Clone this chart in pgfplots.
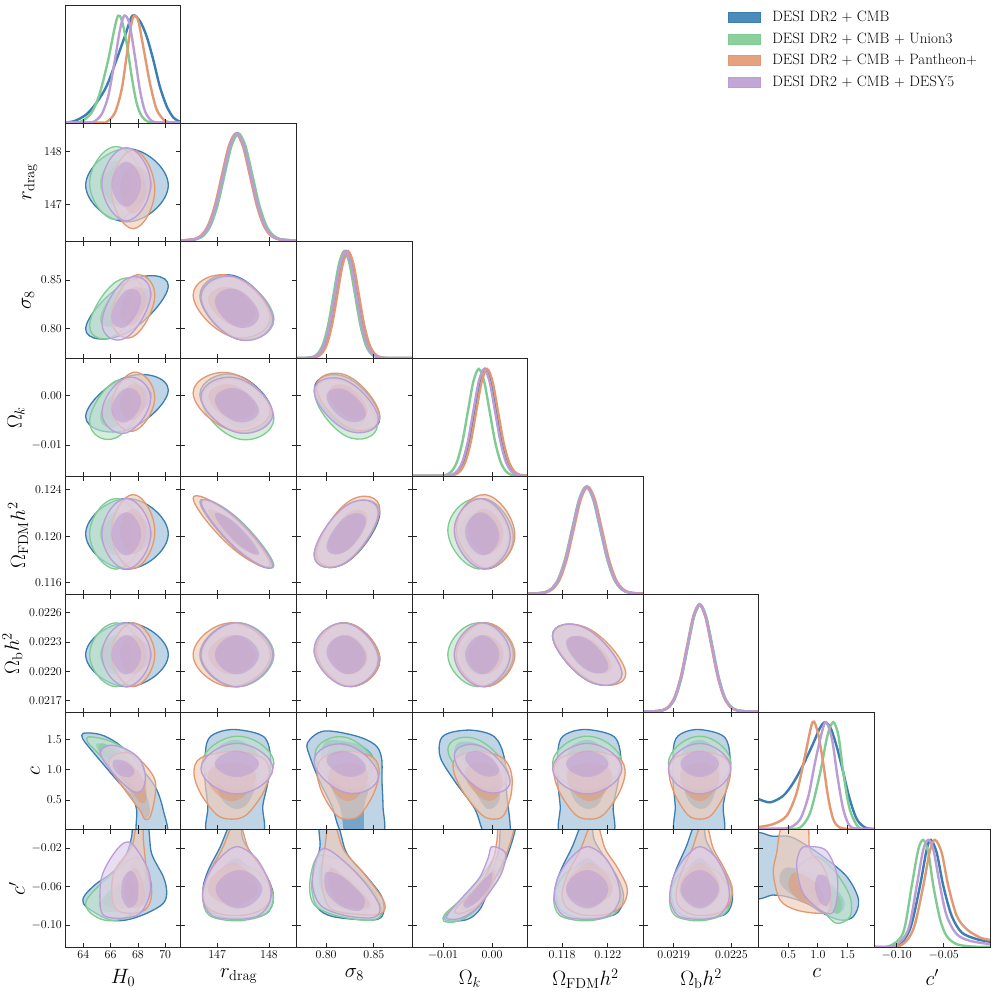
\documentclass[border=0pt]{standalone}
\usepackage{pgfplots}
\pgfplotsset{compat=1.18}
\definecolor{cB}{RGB}{58,126,178}
\definecolor{cG}{RGB}{128,203,146}
\definecolor{cO}{RGB}{226,152,112}
\definecolor{cP}{RGB}{188,156,212}
% one series: colour, tension outer, outer contour, tension inner, inner contour
\newcommand{\ctN}[5]{%
  \addplot[draw=none, fill=#1!50!white, fill opacity=0.65, smooth cycle, tension=#2] coordinates {#3};
  \addplot[draw=none, fill=#1, fill opacity=0.55, smooth cycle, tension=#4] coordinates {#5};
  \addplot[draw=#1, line width=1.3pt, smooth cycle, tension=#2] coordinates {#3};}
\newcommand{\ctE}[3]{\ctN{#1}{0.83}{#2}{0.83}{#3}}
\newcommand{\ctS}[3]{\ctN{#1}{0.55}{#2}{0.55}{#3}}
\newcommand{\ctM}[3]{\ctN{#1}{0.55}{#2}{0.83}{#3}}
\newcommand{\dcurve}[2]{\addplot[draw=#1, line width=2.4pt, smooth, tension=0.5, forget plot] coordinates {#2};}
\pgfplotsset{
  tri/.style={scale only axis, width=115.6pt, height=117.75pt, anchor=south west,
    scaled x ticks=false, scaled y ticks=false,
    axis line style={black!85, line width=0.9pt},
    tick style={black!85, line width=0.8pt}, major tick length=4.5pt,
    tick align=inside, xtick pos=both, ytick pos=both,
    xticklabel pos=left, yticklabel pos=left,
    xticklabels={}, yticklabels={},
    tick label style={font=\fontsize{11.5}{13}\selectfont},
    label style={font=\fontsize{21}{25}\selectfont},
    xlabel style={yshift=-3pt},
    axis on top},
  dg/.style={tri, ymin=-0.008, ymax=1.093, ytick=\empty, xtick pos=left},
  xH/.style={xmin=62.68, xmax=71.15, xtick={64,66,68,70}},
  xR/.style={xmin=146.30, xmax=148.53, xtick={147,148}},
  yR/.style={ymin=146.30, ymax=148.53, ytick={147,148}},
  xS/.style={xmin=0.769, xmax=0.890, xtick={0.80,0.85}},
  yS/.style={ymin=0.769, ymax=0.890, ytick={0.80,0.85}},
  xK/.style={xmin=-0.01628, xmax=0.00727, xtick={-0.01,0}},
  yK/.style={ymin=-0.01628, ymax=0.00727, ytick={-0.01,0}},
  xF/.style={xmin=0.1150, xmax=0.1251, xtick={0.118,0.122}},
  yF/.style={ymin=0.1150, ymax=0.1251, ytick={0.116,0.120,0.124}},
  xB/.style={xmin=0.021582, xmax=0.022787, xtick={0.0219,0.0225}},
  yB/.style={ymin=0.021582, ymax=0.022787, ytick={0.0217,0.0220,0.0223,0.0226}},
  xC/.style={xmin=0, xmax=1.96, xtick={0.5,1,1.5}},
  yC/.style={ymin=0, ymax=1.96, ytick={0.5,1,1.5}},
  xP/.style={xmin=-0.1236, xmax=-0.0006, xtick={-0.10,-0.05}},
  yP/.style={ymin=-0.1236, ymax=-0.0006, ytick={-0.10,-0.06,-0.02}},
  lxH/.style={xticklabels={$64$,$66$,$68$,$70$}, xlabel={$H_0$}},
  lxR/.style={xticklabels={$147$,$148$}, xlabel={$r_{\mathrm{drag}}$}},
  lxS/.style={xticklabels={$0.80$,$0.85$}, xlabel={$\sigma_8$}},
  lxK/.style={xticklabels={$-0.01$,$0.00$}, xlabel={$\Omega_k$}},
  lxF/.style={xticklabels={$0.118$,$0.122$}, xlabel={$\Omega_{\mathrm{FDM}}h^2$}},
  lxB/.style={xticklabels={$0.0219$,$0.0225$}, xlabel={$\Omega_{\mathrm{b}}h^2$}},
  lxC/.style={xticklabels={$0.5$,$1.0$,$1.5$}, xlabel={$c$}},
  lxP/.style={xticklabels={$-0.10$,$-0.05$}, xlabel={$c'$}},
  lyR/.style={yticklabels={$147$,$148$}, ylabel={$r_{\mathrm{drag}}$}},
  lyS/.style={yticklabels={$0.80$,$0.85$}, ylabel={$\sigma_8$}},
  lyK/.style={yticklabels={$-0.01$,$0.00$}, ylabel={$\Omega_k$}},
  lyF/.style={yticklabels={$0.116$,$0.120$,$0.124$}, ylabel={$\Omega_{\mathrm{FDM}}h^2$}},
  lyB/.style={yticklabels={$0.0217$,$0.0220$,$0.0223$,$0.0226$}, ylabel={$\Omega_{\mathrm{b}}h^2$}},
  lyC/.style={yticklabels={$0.5$,$1.0$,$1.5$}, ylabel={$c$}},
  lyP/.style={yticklabels={$-0.10$,$-0.06$,$-0.02$}, ylabel={$c'$}},
}
\begin{document}
\begin{tikzpicture}
\path[use as bounding box] (0,0) rectangle (996pt,996pt);

% ---------------- row 0 : H0
\begin{axis}[dg, xH, at={(65.3pt,872.55pt)}, legend cell align=left,
  legend style={at={(5.73,0.97)}, anchor=north west, draw=none, fill=none, inner sep=0pt,
    row sep=5.5pt, /tikz/every odd column/.append style={column sep=10pt},
    nodes={font=\fontsize{15}{17}\selectfont}}]
\addlegendimage{legend image code/.code={\fill[cB, fill opacity=0.9] (0pt,-5pt) rectangle (32pt,5pt);}}
\addlegendentry{DESI DR2 + CMB}
\addlegendimage{legend image code/.code={\fill[cG, fill opacity=0.9] (0pt,-5pt) rectangle (32pt,5pt);}}
\addlegendentry{DESI DR2 + CMB + Union3}
\addlegendimage{legend image code/.code={\fill[cO, fill opacity=0.9] (0pt,-5pt) rectangle (32pt,5pt);}}
\addlegendentry{DESI DR2 + CMB + Pantheon+}
\addlegendimage{legend image code/.code={\fill[cP, fill opacity=0.9] (0pt,-5pt) rectangle (32pt,5pt);}}
\addlegendentry{DESI DR2 + CMB + DESY5}
\dcurve{cB}{(62.68,0)(63.39,0.016)(64.24,0.078)(64.97,0.186)(65.71,0.342)(66.44,0.59)(67.05,0.81)(67.6,1)(68.14,0.95)(68.63,0.81)(69.12,0.59)(69.6,0.34)(70.1,0.155)(70.6,0.047)(71.15,0.004)}
\dcurve{cG}{(62.68,0)(63.76,0.006)(64.61,0.093)(65.22,0.28)(65.83,0.59)(66.32,0.9)(66.56,1)(66.81,0.96)(67.17,0.75)(67.54,0.435)(67.9,0.186)(68.27,0.062)(68.76,0.006)(69.5,0)(71.15,0)}
\dcurve{cO}{(62.68,0)(65.2,0)(65.71,0.006)(66.32,0.093)(66.81,0.31)(67.17,0.62)(67.49,0.9)(67.73,1)(68.03,0.95)(68.39,0.71)(68.88,0.37)(69.37,0.124)(69.98,0.016)(70.6,0)(71.15,0)}
\dcurve{cP}{(62.68,0)(64.0,0)(64.73,0.006)(65.34,0.078)(65.83,0.25)(66.32,0.59)(66.69,0.87)(67.0,1)(67.37,0.93)(67.78,0.62)(68.14,0.31)(68.51,0.11)(69.0,0.016)(69.6,0)(71.15,0)}
\end{axis}

% ---------------- row 1 : r_drag
\begin{axis}[tri, xH, yR, lyR, at={(65.3pt,754.8pt)}]
\ctE{cB}{(70.226,147.36)(67.2,148.054)(64.174,147.36)(67.2,146.666)}{(69.054,147.36)(67.2,147.786)(65.346,147.36)(67.2,146.934)}
\ctE{cG}{(68.334,147.40)(66.4,148.094)(64.466,147.40)(66.4,146.706)}{(67.586,147.40)(66.4,147.826)(65.214,147.40)(66.4,146.974)}
\ctE{cO}{(69.237,147.28)(67.65,148.024)(66.063,147.28)(67.65,146.536)}{(68.623,147.28)(67.65,147.736)(66.677,147.28)(67.65,146.824)}
\ctE{cP}{(68.936,147.38)(67.15,148.074)(65.364,147.38)(67.15,146.686)}{(68.244,147.38)(67.15,147.806)(66.056,147.38)(67.15,146.954)}
\end{axis}
\begin{axis}[dg, xR, at={(180.9pt,754.8pt)}]
\dcurve{cB}{(146.30,0)(146.39,0.001)(146.58,0.011)(146.715,0.044)(146.85,0.135)(146.985,0.325)(147.12,0.607)(147.255,0.882)(147.39,1)(147.525,0.882)(147.66,0.607)(147.795,0.325)(147.93,0.135)(148.065,0.044)(148.2,0.011)(148.39,0.001)(148.53,0)}
\dcurve{cG}{(146.30,0)(146.41,0.001)(146.60,0.011)(146.735,0.044)(146.87,0.135)(147.005,0.325)(147.14,0.607)(147.275,0.882)(147.41,1)(147.545,0.882)(147.68,0.607)(147.815,0.325)(147.95,0.135)(148.085,0.044)(148.22,0.011)(148.41,0.001)(148.53,0)}
\dcurve{cO}{(146.30,0)(146.36,0.001)(146.55,0.011)(146.685,0.044)(146.82,0.135)(146.955,0.325)(147.09,0.607)(147.225,0.882)(147.36,1)(147.495,0.882)(147.63,0.607)(147.765,0.325)(147.90,0.135)(148.035,0.044)(148.17,0.011)(148.36,0.001)(148.53,0)}
\dcurve{cP}{(146.30,0)(146.38,0.001)(146.57,0.011)(146.705,0.044)(146.84,0.135)(146.975,0.325)(147.11,0.607)(147.245,0.882)(147.38,1)(147.515,0.882)(147.65,0.607)(147.785,0.325)(147.92,0.135)(148.055,0.044)(148.19,0.011)(148.38,0.001)(148.53,0)}
\end{axis}

% ---------------- row 2 : sigma8
\begin{axis}[tri, xH, yS, lyS, at={(65.3pt,637.05pt)}]
\ctE{cB}{(70.226,0.84423)(67.2,0.84799)(64.174,0.79977)(67.2,0.79601)}{(69.054,0.83565)(67.2,0.83796)(65.346,0.80835)(67.2,0.80604)}
\ctE{cG}{(68.334,0.83899)(66.4,0.8483)(64.466,0.80301)(66.4,0.7937)}{(67.586,0.83206)(66.4,0.83778)(65.214,0.80994)(66.4,0.80422)}
\ctE{cO}{(69.237,0.83462)(67.65,0.85411)(66.063,0.81138)(67.65,0.79189)}{(68.623,0.83014)(67.65,0.84211)(66.677,0.81586)(67.65,0.80389)}
\ctE{cP}{(68.936,0.83617)(67.15,0.85109)(65.364,0.80583)(67.15,0.79091)}{(68.244,0.83032)(67.15,0.83949)(66.056,0.81168)(67.15,0.80251)}
\end{axis}
\begin{axis}[tri, xR, yS, at={(180.9pt,637.05pt)}]
\ctE{cB}{(148.054,0.81003)(147.36,0.85405)(146.666,0.83397)(147.36,0.78995)}{(147.786,0.81465)(147.36,0.84168)(146.934,0.82935)(147.36,0.80232)}
\ctE{cG}{(148.094,0.80955)(147.40,0.85164)(146.706,0.83245)(147.40,0.79036)}{(147.826,0.81396)(147.40,0.83983)(146.974,0.82804)(147.40,0.80217)}
\ctE{cO}{(148.024,0.81138)(147.28,0.85411)(146.536,0.83462)(147.28,0.79189)}{(147.736,0.81586)(147.28,0.84211)(146.824,0.83014)(147.28,0.80389)}
\ctE{cP}{(148.074,0.8092)(147.38,0.85258)(146.686,0.8328)(147.38,0.78942)}{(147.806,0.81375)(147.38,0.8404)(146.954,0.82825)(147.38,0.8016)}
\end{axis}
\begin{axis}[dg, xS, at={(296.5pt,637.05pt)}]
\dcurve{cB}{(0.769,0)(0.7803,0.001)(0.788,0.011)(0.7935,0.044)(0.799,0.135)(0.8045,0.325)(0.810,0.607)(0.8155,0.882)(0.821,1)(0.8265,0.882)(0.832,0.607)(0.8375,0.325)(0.843,0.135)(0.8485,0.044)(0.854,0.011)(0.8617,0.001)(0.890,0)}
\dcurve{cG}{(0.769,0)(0.7783,0.001)(0.786,0.011)(0.7915,0.044)(0.797,0.135)(0.8025,0.325)(0.808,0.607)(0.8135,0.882)(0.819,1)(0.8245,0.882)(0.830,0.607)(0.8355,0.325)(0.841,0.135)(0.8465,0.044)(0.852,0.011)(0.8597,0.001)(0.890,0)}
\dcurve{cO}{(0.769,0)(0.7823,0.001)(0.790,0.011)(0.7955,0.044)(0.801,0.135)(0.8065,0.325)(0.812,0.607)(0.8175,0.882)(0.823,1)(0.8285,0.882)(0.834,0.607)(0.8395,0.325)(0.845,0.135)(0.8505,0.044)(0.856,0.011)(0.8637,0.001)(0.890,0)}
\dcurve{cP}{(0.769,0)(0.7798,0.001)(0.7875,0.011)(0.793,0.044)(0.7985,0.135)(0.804,0.325)(0.8095,0.607)(0.815,0.882)(0.8205,1)(0.826,0.882)(0.8315,0.607)(0.837,0.325)(0.8425,0.135)(0.848,0.044)(0.8535,0.011)(0.8612,0.001)(0.890,0)}
\end{axis}

% ---------------- row 3 : Omega_k
\begin{axis}[tri, xH, yK, lyK, at={(65.3pt,519.3pt)}]
\ctE{cB}{(70.226,0.00108)(67.2,0.00371)(64.174,-0.00428)(67.2,-0.00691)}{(69.054,0.00004)(67.2,0.00166)(65.346,-0.00324)(67.2,-0.00486)}
\ctE{cG}{(68.334,-0.00032)(66.4,0.00289)(64.466,-0.00528)(66.4,-0.00849)}{(67.586,-0.00128)(66.4,0.00068)(65.214,-0.00432)(66.4,-0.00628)}
\ctE{cO}{(69.237,-0.00041)(67.65,0.00458)(66.063,-0.00219)(67.65,-0.00718)}{(68.623,-0.00075)(67.65,0.00231)(66.677,-0.00185)(67.65,-0.00491)}
\ctE{cP}{(68.936,-0.00057)(67.15,0.00352)(65.364,-0.00343)(67.15,-0.00752)}{(68.244,-0.00112)(67.15,0.00139)(66.056,-0.00288)(67.15,-0.00539)}
\end{axis}
\begin{axis}[tri, xR, yK, at={(180.9pt,519.3pt)}]
\ctE{cB}{(148.054,-0.00339)(147.36,0.00408)(146.666,0.00019)(147.36,-0.00728)}{(147.786,-0.0027)(147.36,0.00188)(146.934,-0.0005)(147.36,-0.00508)}
\ctE{cG}{(148.094,-0.00466)(147.40,0.00311)(146.706,-0.00094)(147.40,-0.00871)}{(147.826,-0.00394)(147.40,0.00083)(146.974,-0.00166)(147.40,-0.00643)}
\ctE{cO}{(148.024,-0.00309)(147.28,0.00438)(146.536,0.00049)(147.28,-0.00698)}{(147.736,-0.0024)(147.28,0.00218)(146.824,-0.0002)(147.28,-0.00478)}
\ctE{cP}{(148.074,-0.00371)(147.38,0.00344)(146.686,-0.00029)(147.38,-0.00744)}{(147.806,-0.00305)(147.38,0.00134)(146.954,-0.00095)(147.38,-0.00534)}
\end{axis}
\begin{axis}[tri, xS, yK, at={(296.5pt,519.3pt)}]
\ctE{cB}{(0.8562,-0.00458)(0.822,0.00355)(0.7878,0.00138)(0.822,-0.00675)}{(0.843,-0.00343)(0.822,0.00156)(0.801,0.00023)(0.822,-0.00476)}
\ctE{cG}{(0.8537,-0.0059)(0.821,0.00257)(0.7883,0.0003)(0.821,-0.00817)}{(0.8411,-0.0047)(0.821,0.00049)(0.8009,-0.0009)(0.821,-0.00609)}
\ctE{cO}{(0.8562,-0.00428)(0.823,0.00385)(0.7898,0.00168)(0.823,-0.00645)}{(0.8434,-0.00313)(0.823,0.00186)(0.8026,0.00053)(0.823,-0.00446)}
\ctE{cP}{(0.8547,-0.00485)(0.821,0.00294)(0.7873,0.00085)(0.821,-0.00694)}{(0.8417,-0.00375)(0.821,0.00103)(0.8003,-0.00025)(0.821,-0.00503)}
\end{axis}
\begin{axis}[dg, xK, at={(412.1pt,519.3pt)}]
\dcurve{cB}{(-0.01628,0)(-0.0095,0.001)(-0.008,0.011)(-0.0069,0.044)(-0.0058,0.135)(-0.0047,0.325)(-0.0036,0.607)(-0.0025,0.882)(-0.0014,1)(-0.0003,0.882)(0.0008,0.607)(0.0019,0.325)(0.003,0.135)(0.0041,0.044)(0.0052,0.011)(0.0067,0.001)(0.00727,0)}
\dcurve{cG}{(-0.01628,0)(-0.0108,0.001)(-0.0093,0.011)(-0.0082,0.044)(-0.0071,0.135)(-0.006,0.325)(-0.0049,0.607)(-0.0038,0.882)(-0.0027,1)(-0.0016,0.882)(-0.0005,0.607)(0.0006,0.325)(0.0017,0.135)(0.0028,0.044)(0.0039,0.011)(0.0054,0.001)(0.00727,0)}
\dcurve{cO}{(-0.01628,0)(-0.0091,0.001)(-0.0076,0.011)(-0.0065,0.044)(-0.0054,0.135)(-0.0043,0.325)(-0.0032,0.607)(-0.0021,0.882)(-0.001,1)(0.0001,0.882)(0.0012,0.607)(0.0023,0.325)(0.0034,0.135)(0.0045,0.044)(0.0056,0.011)(0.00727,0.001)}
\dcurve{cP}{(-0.01628,0)(-0.0097,0.001)(-0.0082,0.011)(-0.0071,0.044)(-0.006,0.135)(-0.0049,0.325)(-0.0038,0.607)(-0.0027,0.882)(-0.0016,1)(-0.0005,0.882)(0.0006,0.607)(0.0017,0.325)(0.0028,0.135)(0.0039,0.044)(0.005,0.011)(0.0065,0.001)(0.00727,0)}
\end{axis}

% ---------------- row 4 : Omega_FDM h^2
\begin{axis}[tri, xH, yF, lyF, at={(65.3pt,401.55pt)}]
\ctE{cB}{(70.226,0.1202)(67.2,0.12323)(64.174,0.1202)(67.2,0.11717)}{(69.054,0.1202)(67.2,0.12205)(65.346,0.1202)(67.2,0.11835)}
\ctE{cG}{(68.334,0.1202)(66.4,0.12323)(64.466,0.1202)(66.4,0.11717)}{(67.586,0.1202)(66.4,0.12205)(65.214,0.1202)(66.4,0.11835)}
\ctE{cO}{(69.237,0.1204)(67.65,0.12357)(66.063,0.1204)(67.65,0.11723)}{(68.623,0.1204)(67.65,0.12235)(66.677,0.1204)(67.65,0.11845)}
\ctE{cP}{(68.936,0.1202)(67.15,0.12323)(65.364,0.1202)(67.15,0.11717)}{(68.244,0.1202)(67.15,0.12205)(66.056,0.1202)(67.15,0.11835)}
\end{axis}
\begin{axis}[tri, xR, yF, at={(180.9pt,401.55pt)}]
\ctE{cB}{(148.054,0.11747)(147.36,0.12152)(146.666,0.12293)(147.36,0.11888)}{(147.786,0.11853)(147.36,0.12101)(146.934,0.12187)(147.36,0.11939)}
\ctE{cG}{(148.094,0.11747)(147.40,0.12152)(146.706,0.12293)(147.40,0.11888)}{(147.826,0.11853)(147.40,0.12101)(146.974,0.12187)(147.40,0.11939)}
\ctE{cO}{(148.024,0.11755)(147.28,0.12178)(146.536,0.12325)(147.28,0.11902)}{(147.736,0.11864)(147.28,0.12125)(146.824,0.12216)(147.28,0.11955)}
\ctE{cP}{(148.074,0.11747)(147.38,0.12152)(146.686,0.12293)(147.38,0.11888)}{(147.806,0.11853)(147.38,0.12101)(146.954,0.12187)(147.38,0.11939)}
\end{axis}
\begin{axis}[tri, xS, yF, at={(296.5pt,401.55pt)}]
\ctE{cB}{(0.8562,0.12202)(0.822,0.12262)(0.7878,0.11838)(0.822,0.11778)}{(0.843,0.12131)(0.822,0.12168)(0.801,0.11909)(0.822,0.11872)}
\ctE{cG}{(0.8537,0.12202)(0.821,0.12262)(0.7883,0.11838)(0.821,0.11778)}{(0.8411,0.12131)(0.821,0.12168)(0.8009,0.11909)(0.821,0.11872)}
\ctE{cO}{(0.8562,0.1223)(0.823,0.12294)(0.7898,0.1185)(0.823,0.11786)}{(0.8434,0.12157)(0.823,0.12196)(0.8026,0.11923)(0.823,0.11884)}
\ctE{cP}{(0.8547,0.12202)(0.821,0.12262)(0.7873,0.11838)(0.821,0.11778)}{(0.8417,0.12131)(0.821,0.12168)(0.8003,0.11909)(0.821,0.11872)}
\end{axis}
\begin{axis}[tri, xK, yF, at={(412.1pt,401.55pt)}]
\ctE{cB}{(0.00435,0.1199)(-0.0016,0.12321)(-0.00755,0.1205)(-0.0016,0.11719)}{(0.00205,0.12002)(-0.0016,0.12204)(-0.00525,0.12039)(-0.0016,0.11836)}
\ctE{cG}{(0.0034,0.1199)(-0.0028,0.12321)(-0.009,0.1205)(-0.0028,0.11719)}{(0.001,0.12002)(-0.0028,0.12204)(-0.0066,0.12039)(-0.0028,0.11836)}
\ctE{cO}{(0.00465,0.12008)(-0.0013,0.12355)(-0.00725,0.12072)(-0.0013,0.11725)}{(0.00235,0.1202)(-0.0013,0.12234)(-0.00495,0.1206)(-0.0013,0.11846)}
\ctE{cP}{(0.0037,0.1199)(-0.002,0.12321)(-0.0077,0.1205)(-0.002,0.11719)}{(0.0015,0.12002)(-0.002,0.12204)(-0.0055,0.12039)(-0.002,0.11836)}
\end{axis}
\begin{axis}[dg, xF, at={(527.7pt,401.55pt)}]
\dcurve{cB}{(0.1150,0)(0.11565,0.001)(0.11649,0.011)(0.1171,0.044)(0.11771,0.135)(0.11832,0.325)(0.11893,0.607)(0.11954,0.882)(0.12015,1)(0.12076,0.882)(0.12137,0.607)(0.12198,0.325)(0.12259,0.135)(0.1232,0.044)(0.12381,0.011)(0.12465,0.001)(0.1251,0)}
\dcurve{cG}{(0.1150,0)(0.1156,0.001)(0.11644,0.011)(0.11705,0.044)(0.11766,0.135)(0.11827,0.325)(0.11888,0.607)(0.11949,0.882)(0.1201,1)(0.12071,0.882)(0.12132,0.607)(0.12193,0.325)(0.12254,0.135)(0.12315,0.044)(0.12376,0.011)(0.1246,0.001)(0.1251,0)}
\dcurve{cO}{(0.1150,0)(0.11575,0.001)(0.11659,0.011)(0.1172,0.044)(0.11781,0.135)(0.11842,0.325)(0.11903,0.607)(0.11964,0.882)(0.12025,1)(0.12086,0.882)(0.12147,0.607)(0.12208,0.325)(0.12269,0.135)(0.1233,0.044)(0.12391,0.011)(0.12475,0.001)(0.1251,0)}
\dcurve{cP}{(0.1150,0)(0.11565,0.001)(0.11649,0.011)(0.1171,0.044)(0.11771,0.135)(0.11832,0.325)(0.11893,0.607)(0.11954,0.882)(0.12015,1)(0.12076,0.882)(0.12137,0.607)(0.12198,0.325)(0.12259,0.135)(0.1232,0.044)(0.12381,0.011)(0.12465,0.001)(0.1251,0)}
\end{axis}

% ---------------- row 5 : Omega_b h^2
\begin{axis}[tri, xH, yB, lyB, at={(65.3pt,283.8pt)}]
\ctE{cB}{(70.226,0.02217)(67.2,0.022497)(64.174,0.02217)(67.2,0.021843)}{(69.054,0.02217)(67.2,0.022371)(65.346,0.02217)(67.2,0.021969)}
\ctE{cG}{(68.334,0.02217)(66.4,0.022497)(64.466,0.02217)(66.4,0.021843)}{(67.586,0.02217)(66.4,0.022371)(65.214,0.02217)(66.4,0.021969)}
\ctE{cO}{(69.237,0.02217)(67.65,0.022497)(66.063,0.02217)(67.65,0.021843)}{(68.623,0.02217)(67.65,0.022371)(66.677,0.02217)(67.65,0.021969)}
\ctE{cP}{(68.936,0.02217)(67.15,0.022497)(65.364,0.02217)(67.15,0.021843)}{(68.244,0.02217)(67.15,0.022371)(66.056,0.02217)(67.15,0.021969)}
\end{axis}
\begin{axis}[tri, xR, yB, at={(180.9pt,283.8pt)}]
\ctE{cB}{(148.054,0.02217)(147.36,0.022497)(146.666,0.02217)(147.36,0.021843)}{(147.786,0.02217)(147.36,0.022371)(146.934,0.02217)(147.36,0.021969)}
\ctE{cG}{(148.094,0.02217)(147.40,0.022497)(146.706,0.02217)(147.40,0.021843)}{(147.826,0.02217)(147.40,0.022371)(146.974,0.02217)(147.40,0.021969)}
\ctE{cO}{(148.024,0.02217)(147.28,0.022497)(146.536,0.02217)(147.28,0.021843)}{(147.736,0.02217)(147.28,0.022371)(146.824,0.02217)(147.28,0.021969)}
\ctE{cP}{(148.074,0.02217)(147.38,0.022497)(146.686,0.02217)(147.38,0.021843)}{(147.806,0.02217)(147.38,0.022371)(146.954,0.02217)(147.38,0.021969)}
\end{axis}
\begin{axis}[tri, xS, yB, at={(296.5pt,283.8pt)}]
\ctE{cB}{(0.8562,0.022121)(0.822,0.022493)(0.7878,0.022219)(0.822,0.021847)}{(0.843,0.02214)(0.822,0.022369)(0.801,0.0222)(0.822,0.021971)}
\ctE{cG}{(0.8537,0.022121)(0.821,0.022493)(0.7883,0.022219)(0.821,0.021847)}{(0.8411,0.02214)(0.821,0.022369)(0.8009,0.0222)(0.821,0.021971)}
\ctE{cO}{(0.8562,0.022121)(0.823,0.022493)(0.7898,0.022219)(0.823,0.021847)}{(0.8434,0.02214)(0.823,0.022369)(0.8026,0.0222)(0.823,0.021971)}
\ctE{cP}{(0.8547,0.022121)(0.821,0.022493)(0.7873,0.022219)(0.821,0.021847)}{(0.8417,0.02214)(0.821,0.022369)(0.8003,0.0222)(0.821,0.021971)}
\end{axis}
\begin{axis}[tri, xK, yB, at={(412.1pt,283.8pt)}]
\ctE{cB}{(0.00435,0.02217)(-0.0016,0.022497)(-0.00755,0.02217)(-0.0016,0.021843)}{(0.00205,0.02217)(-0.0016,0.022371)(-0.00525,0.02217)(-0.0016,0.021969)}
\ctE{cG}{(0.0034,0.02217)(-0.0028,0.022497)(-0.009,0.02217)(-0.0028,0.021843)}{(0.001,0.02217)(-0.0028,0.022371)(-0.0066,0.02217)(-0.0028,0.021969)}
\ctE{cO}{(0.00465,0.02217)(-0.0013,0.022497)(-0.00725,0.02217)(-0.0013,0.021843)}{(0.00235,0.02217)(-0.0013,0.022371)(-0.00495,0.02217)(-0.0013,0.021969)}
\ctE{cP}{(0.0037,0.02217)(-0.002,0.022497)(-0.0077,0.02217)(-0.002,0.021843)}{(0.0015,0.02217)(-0.002,0.022371)(-0.0055,0.02217)(-0.002,0.021969)}
\end{axis}
\begin{axis}[tri, xF, yB, at={(527.7pt,283.8pt)}]
\ctE{cB}{(0.12323,0.021974)(0.1202,0.022432)(0.11717,0.022366)(0.1202,0.021908)}{(0.12205,0.022049)(0.1202,0.022331)(0.11835,0.022291)(0.1202,0.022009)}
\ctE{cG}{(0.12323,0.021974)(0.1202,0.022432)(0.11717,0.022366)(0.1202,0.021908)}{(0.12205,0.022049)(0.1202,0.022331)(0.11835,0.022291)(0.1202,0.022009)}
\ctE{cO}{(0.12357,0.021974)(0.1204,0.022432)(0.11723,0.022366)(0.1204,0.021908)}{(0.12235,0.022049)(0.1204,0.022331)(0.11845,0.022291)(0.1204,0.022009)}
\ctE{cP}{(0.12323,0.021974)(0.1202,0.022432)(0.11717,0.022366)(0.1202,0.021908)}{(0.12205,0.022049)(0.1202,0.022331)(0.11835,0.022291)(0.1202,0.022009)}
\end{axis}
\begin{axis}[dg, xB, at={(643.3pt,283.8pt)}]
\dcurve{cB}{(0.021582,0)(0.0217,0.001)(0.021786,0.011)(0.02185,0.044)(0.021914,0.135)(0.021978,0.325)(0.022042,0.607)(0.022106,0.882)(0.02217,1)(0.022234,0.882)(0.022298,0.607)(0.022362,0.325)(0.022426,0.135)(0.02249,0.044)(0.022554,0.011)(0.02264,0.001)(0.022787,0)}
\dcurve{cG}{(0.021582,0)(0.021705,0.001)(0.021791,0.011)(0.021855,0.044)(0.021919,0.135)(0.021983,0.325)(0.022047,0.607)(0.022111,0.882)(0.022175,1)(0.022239,0.882)(0.022303,0.607)(0.022367,0.325)(0.022431,0.135)(0.022495,0.044)(0.022559,0.011)(0.022645,0.001)(0.022787,0)}
\dcurve{cO}{(0.021582,0)(0.021695,0.001)(0.021781,0.011)(0.021845,0.044)(0.021909,0.135)(0.021973,0.325)(0.022037,0.607)(0.022101,0.882)(0.022165,1)(0.022229,0.882)(0.022293,0.607)(0.022357,0.325)(0.022421,0.135)(0.022485,0.044)(0.022549,0.011)(0.022635,0.001)(0.022787,0)}
\dcurve{cP}{(0.021582,0)(0.0217,0.001)(0.021786,0.011)(0.02185,0.044)(0.021914,0.135)(0.021978,0.325)(0.022042,0.607)(0.022106,0.882)(0.02217,1)(0.022234,0.882)(0.022298,0.607)(0.022362,0.325)(0.022426,0.135)(0.02249,0.044)(0.022554,0.011)(0.02264,0.001)(0.022787,0)}
\end{axis}

% ---------------- row 6 : c
\begin{axis}[tri, xH, yC, lyC, at={(65.3pt,166.05pt)}]
\ctS{cB}{(64.0,1.61)(65.22,1.59)(66.45,1.45)(67.66,1.2)(68.64,0.92)(69.38,0.67)(69.86,0.33)(70.11,-0.1)(68.03,-0.1)(67.91,0.33)(67.54,0.55)(66.45,0.83)(65.22,1.16)(64.37,1.39)(63.95,1.52)}{(65.4,1.45)(66.6,1.25)(67.8,0.95)(68.6,0.6)(68.9,0.3)(68.5,0.2)(67.9,0.45)(66.9,0.8)(65.7,1.1)(65.1,1.3)}
\ctS{cG}{(64.45,1.55)(65.95,1.48)(67.42,1.29)(68.4,1.05)(68.55,0.8)(68.2,0.64)(67.18,0.84)(65.95,1.08)(64.86,1.33)(64.3,1.47)}{(65.0,1.44)(66.3,1.38)(67.4,1.17)(67.8,0.98)(67.3,0.92)(66.2,1.1)(65.2,1.3)}
\ctS{cO}{(65.95,1.19)(66.69,1.28)(67.66,1.26)(68.64,1.05)(69.25,0.83)(69.25,0.55)(68.9,0.22)(68.5,0.18)(68.15,0.33)(67.42,0.55)(66.33,0.89)(65.9,1.05)}{(66.7,1.1)(67.7,1.05)(68.5,0.8)(68.6,0.5)(68.2,0.45)(67.5,0.65)(66.7,0.9)}
\ctS{cP}{(65.95,1.41)(67.18,1.34)(68.15,1.17)(68.55,0.89)(68.3,0.66)(67.66,0.64)(66.69,0.82)(65.71,1.08)(65.25,1.3)}{(66.3,1.17)(67.2,1.13)(67.75,0.98)(67.4,0.88)(66.6,0.92)(66.15,1.07)}
\end{axis}
\begin{axis}[tri, xR, yC, at={(180.9pt,166.05pt)}]
\ctS{cB}{(147.38,1.67)(147.9,1.55)(148.03,1.2)(147.98,0.8)(147.88,0.4)(147.84,-0.1)(146.85,-0.1)(146.82,0.4)(146.76,0.9)(146.8,1.45)(147.0,1.62)}{(147.38,1.5)(147.75,1.3)(147.8,0.9)(147.6,0.45)(147.35,0.35)(147.1,0.5)(146.95,0.9)(147.0,1.35)}
\ctE{cG}{(148.094,1.11)(147.40,1.56)(146.706,1.11)(147.40,0.66)}{(147.826,1.18)(147.40,1.44)(146.974,1.18)(147.40,0.92)}
\ctS{cO}{(147.30,1.31)(147.875,1.2)(148.009,0.95)(147.875,0.6)(147.563,0.25)(147.28,0.18)(146.997,0.25)(146.685,0.6)(146.551,0.95)(146.685,1.2)}{(147.28,1.12)(147.689,1.02)(147.726,0.78)(147.503,0.55)(147.28,0.48)(147.057,0.55)(146.834,0.78)(146.871,1.02)}
\ctE{cP}{(148.074,1.02)(147.38,1.44)(146.686,1.02)(147.38,0.60)}{(147.806,1.1)(147.38,1.32)(146.954,1.1)(147.38,0.88)}
\end{axis}
\begin{axis}[tri, xS, yC, at={(296.5pt,166.05pt)}]
\ctS{cB}{(0.7975,1.645)(0.83,1.57)(0.851,1.42)(0.858,1.2)(0.8585,0.8)(0.8595,0.4)(0.8585,-0.1)(0.8195,-0.1)(0.806,0.4)(0.7935,0.8)(0.7835,1.2)(0.7805,1.45)}{(0.805,1.5)(0.835,1.42)(0.85,1.2)(0.847,0.8)(0.84,0.4)(0.838,-0.1)(0.8205,-0.1)(0.815,0.35)(0.803,0.8)(0.795,1.2)(0.797,1.42)}
\ctE{cG}{(0.8537,0.988)(0.821,1.54)(0.7883,1.252)(0.821,0.70)}{(0.8411,1.099)(0.821,1.438)(0.8009,1.261)(0.821,0.922)}
\ctS{cO}{(0.824,1.31)(0.8496,1.2)(0.8555,0.95)(0.8496,0.6)(0.8356,0.25)(0.823,0.18)(0.8104,0.25)(0.7964,0.6)(0.7905,0.95)(0.7964,1.2)}{(0.823,1.12)(0.8413,1.02)(0.8429,0.78)(0.833,0.55)(0.823,0.48)(0.813,0.55)(0.8031,0.78)(0.8047,1.02)}
\ctE{cP}{(0.8547,0.894)(0.821,1.42)(0.7873,1.146)(0.821,0.62)}{(0.8417,1.034)(0.821,1.31)(0.8003,1.166)(0.821,0.89)}
\end{axis}
\begin{axis}[tri, xK, yC, at={(412.1pt,166.05pt)}]
\ctS{cB}{(-0.0085,1.62)(-0.004,1.66)(0.0005,1.55)(0.0025,1.2)(0.003,0.6)(0.0035,-0.1)(-0.0012,-0.1)(-0.0035,0.35)(-0.0075,0.8)(-0.0105,1.2)(-0.0105,1.5)}{(-0.007,1.45)(-0.002,1.4)(0.001,1.0)(0.0015,0.5)(-0.001,0.35)(-0.004,0.7)(-0.0075,1.1)}
\ctE{cG}{(0.0034,0.90)(-0.0028,1.501)(-0.009,1.34)(-0.0028,0.739)}{(0.001,1.045)(-0.0028,1.414)(-0.0066,1.315)(-0.0028,0.946)}
\ctS{cO}{(-0.00279,1.31)(0.00212,1.2)(0.00394,0.95)(0.00391,0.6)(0.00245,0.25)(0.0004,0.18)(-0.00207,0.25)(-0.00561,0.6)(-0.00773,0.95)(-0.0074,1.2)}{(-0.0024,1.12)(0.00117,1.02)(0.00218,0.78)(0.00108,0.55)(-0.0005,0.48)(-0.00249,0.55)(-0.00496,0.78)(-0.00538,1.02)}
\ctE{cP}{(0.0037,0.81)(-0.002,1.384)(-0.0077,1.23)(-0.002,0.656)}{(0.0015,0.99)(-0.002,1.29)(-0.0055,1.21)(-0.002,0.91)}
\end{axis}
\begin{axis}[tri, xF, yC, at={(527.7pt,166.05pt)}]
\ctS{cB}{(0.12029,1.67)(0.12256,1.55)(0.12314,1.2)(0.1229,0.8)(0.12247,0.4)(0.12229,-0.1)(0.11799,-0.1)(0.11784,0.4)(0.11759,0.9)(0.11775,1.45)(0.11862,1.62)}{(0.12029,1.5)(0.1219,1.3)(0.12211,0.9)(0.12126,0.45)(0.12017,0.35)(0.11908,0.5)(0.11841,0.9)(0.11862,1.35)}
\ctE{cG}{(0.12323,1.11)(0.1202,1.56)(0.11717,1.11)(0.1202,0.66)}{(0.12205,1.18)(0.1202,1.44)(0.11835,1.18)(0.1202,0.92)}
\ctS{cO}{(0.1205,1.31)(0.12294,1.2)(0.12351,0.95)(0.12294,0.6)(0.1216,0.25)(0.1204,0.18)(0.1192,0.25)(0.11786,0.6)(0.11729,0.95)(0.11786,1.2)}{(0.1204,1.12)(0.12214,1.02)(0.1223,0.78)(0.12135,0.55)(0.1204,0.48)(0.11945,0.55)(0.1185,0.78)(0.11866,1.02)}
\ctE{cP}{(0.12323,1.02)(0.1202,1.44)(0.11717,1.02)(0.1202,0.60)}{(0.12205,1.1)(0.1202,1.32)(0.11835,1.1)(0.1202,0.88)}
\end{axis}
\begin{axis}[tri, xB, yC, at={(643.3pt,166.05pt)}]
\ctS{cB}{(0.02218,1.67)(0.022425,1.55)(0.022487,1.2)(0.022461,0.8)(0.022415,0.4)(0.022396,-0.1)(0.021931,-0.1)(0.021915,0.4)(0.021889,0.9)(0.021905,1.45)(0.022,1.62)}{(0.02218,1.5)(0.022353,1.3)(0.022376,0.9)(0.022284,0.45)(0.022167,0.35)(0.022049,0.5)(0.021977,0.9)(0.022,1.35)}
\ctE{cG}{(0.022497,1.11)(0.02217,1.56)(0.021843,1.11)(0.02217,0.66)}{(0.022371,1.18)(0.02217,1.44)(0.021969,1.18)(0.02217,0.92)}
\ctS{cO}{(0.02218,1.31)(0.022432,1.2)(0.02249,0.95)(0.022432,0.6)(0.022294,0.25)(0.02217,0.18)(0.022046,0.25)(0.021908,0.6)(0.02185,0.95)(0.021908,1.2)}{(0.02217,1.12)(0.02235,1.02)(0.022366,0.78)(0.022268,0.55)(0.02217,0.48)(0.022072,0.55)(0.021974,0.78)(0.02199,1.02)}
\ctE{cP}{(0.022497,1.02)(0.02217,1.44)(0.021843,1.02)(0.02217,0.60)}{(0.022371,1.1)(0.02217,1.32)(0.021969,1.1)(0.02217,0.88)}
\end{axis}
\begin{axis}[dg, xC, at={(758.9pt,166.05pt)}]
\dcurve{cB}{(0,0.28)(0.19,0.25)(0.41,0.31)(0.58,0.43)(0.75,0.6)(0.92,0.8)(1.03,0.94)(1.12,1)(1.22,0.94)(1.32,0.77)(1.43,0.53)(1.54,0.28)(1.66,0.093)(1.8,0.015)(1.96,0)}
\dcurve{cG}{(0,0.002)(0.5,0.004)(0.7,0.015)(0.87,0.155)(1.04,0.53)(1.16,0.87)(1.26,1)(1.35,0.87)(1.43,0.53)(1.54,0.186)(1.69,0.015)(1.85,0.002)(1.96,0)}
\dcurve{cO}{(0,0.02)(0.24,0.046)(0.47,0.124)(0.64,0.34)(0.78,0.68)(0.91,1)(1.0,0.9)(1.09,0.62)(1.17,0.31)(1.26,0.093)(1.37,0.015)(1.6,0)(1.96,0)}
\dcurve{cP}{(0,0.003)(0.35,0.005)(0.53,0.015)(0.7,0.093)(0.84,0.31)(0.95,0.62)(1.07,0.91)(1.14,1)(1.24,0.84)(1.33,0.5)(1.43,0.186)(1.54,0.03)(1.7,0.003)(1.96,0)}
\end{axis}

% ---------------- row 7 : c'
\begin{axis}[tri, xH, yP, lxH, lyP, at={(65.3pt,48.3pt)}]
\ctS{cB}{(67.7,0.005)(68.7,0.005)(69.0,-0.025)(69.86,-0.0494)(70.11,-0.0651)(69.86,-0.0773)(68.64,-0.0877)(67.18,-0.0946)(65.95,-0.0946)(64.73,-0.086)(64.0,-0.0773)(64.12,-0.0686)(64.98,-0.0564)(66.2,-0.0442)(67.18,-0.025)(67.54,-0.0076)}{(67.9,-0.03)(68.9,-0.05)(69.0,-0.068)(68.3,-0.08)(66.8,-0.083)(65.5,-0.078)(65.8,-0.065)(67.0,-0.05)}
\ctS{cG}{(64.2,-0.075)(65.2,-0.058)(66.5,-0.042)(67.6,-0.03)(68.4,-0.033)(68.5,-0.06)(68.2,-0.08)(67.0,-0.093)(65.6,-0.095)(64.5,-0.087)}{(65.2,-0.075)(66.5,-0.06)(67.5,-0.055)(67.7,-0.07)(66.5,-0.085)(65.4,-0.085)}
\ctS{cO}{(67.9,0.005)(67.54,-0.0181)(66.32,-0.0425)(66.08,-0.0668)(66.45,-0.0843)(67.66,-0.0877)(68.64,-0.0825)(69.01,-0.0668)(68.64,-0.0425)(68.4,-0.0111)(68.35,0.005)}{(67.8,-0.04)(68.4,-0.055)(68.45,-0.075)(67.7,-0.082)(67.0,-0.07)(67.2,-0.05)}
\ctS{cP}{(66.93,-0.0146)(67.66,-0.0163)(68.76,-0.0425)(68.88,-0.0668)(68.15,-0.0877)(66.69,-0.0929)(65.47,-0.0895)(65.22,-0.0738)(65.35,-0.0494)(66.08,-0.0285)}{(67.5,-0.043)(68.0,-0.055)(67.95,-0.075)(67.3,-0.082)(66.8,-0.07)(66.9,-0.052)}
\end{axis}
\begin{axis}[tri, xR, yP, lxR, at={(180.9pt,48.3pt)}]
\ctS{cB}{(147.25,0.005)(147.06,-0.0181)(146.83,-0.0425)(146.73,-0.0599)(146.75,-0.0738)(146.83,-0.0843)(147.06,-0.0912)(147.44,-0.0929)(147.89,-0.0895)(148.05,-0.0808)(148.08,-0.0668)(147.96,-0.0494)(147.7,-0.0285)(147.5,-0.0111)(147.44,0.005)}{(147.36,-0.03)(147.75,-0.05)(147.8,-0.07)(147.36,-0.083)(146.92,-0.07)(146.97,-0.05)}
\ctM{cG}{(147.38,-0.037)(147.8,-0.045)(148.08,-0.068)(147.95,-0.088)(147.4,-0.0955)(146.85,-0.09)(146.73,-0.07)(146.95,-0.047)}{(147.83,-0.067)(147.4,-0.052)(146.97,-0.067)(147.4,-0.084)}
\ctS{cO}{(147.3,0.005)(147.1,-0.02)(146.85,-0.045)(146.72,-0.065)(146.78,-0.08)(147.1,-0.089)(147.6,-0.089)(147.95,-0.08)(148.05,-0.062)(147.85,-0.04)(147.6,-0.02)(147.45,0.005)}{(147.3,-0.035)(147.7,-0.05)(147.75,-0.068)(147.3,-0.08)(146.85,-0.068)(146.9,-0.05)}
\ctM{cP}{(147.38,-0.018)(147.75,-0.03)(148.0,-0.055)(148.02,-0.075)(147.8,-0.09)(147.38,-0.094)(146.9,-0.09)(146.72,-0.072)(146.8,-0.05)(147.05,-0.03)}{(147.87,-0.0625)(147.42,-0.0425)(146.97,-0.0625)(147.42,-0.0825)}
\end{axis}
\begin{axis}[tri, xS, yP, lxS, at={(296.5pt,48.3pt)}]
\ctS{cB}{(0.7936,0.005)(0.8115,0.005)(0.8216,-0.025)(0.8425,-0.0494)(0.8582,-0.0703)(0.8599,-0.0877)(0.8494,-0.0946)(0.8075,-0.0912)(0.7902,-0.0808)(0.7849,-0.0599)(0.7884,-0.039)(0.7936,-0.0181)}{(0.795,-0.035)(0.815,-0.045)(0.84,-0.065)(0.848,-0.082)(0.83,-0.085)(0.805,-0.075)(0.793,-0.058)}
\ctS{cG}{(0.792,-0.028)(0.82,-0.035)(0.85,-0.065)(0.858,-0.088)(0.845,-0.095)(0.81,-0.09)(0.787,-0.078)(0.783,-0.055)}{(0.797,-0.05)(0.825,-0.055)(0.845,-0.08)(0.825,-0.085)(0.8,-0.075)}
\ctS{cO}{(0.8023,0.005)(0.7988,-0.0181)(0.7953,-0.0425)(0.7971,-0.0668)(0.8075,-0.0843)(0.8459,-0.0895)(0.8599,-0.086)(0.8599,-0.0738)(0.8394,-0.0459)(0.8185,-0.0215)(0.8092,0.005)}{(0.805,-0.04)(0.825,-0.055)(0.845,-0.075)(0.84,-0.083)(0.815,-0.078)(0.803,-0.06)}
\ctS{cP}{(0.797,-0.02)(0.815,-0.03)(0.84,-0.055)(0.856,-0.08)(0.85,-0.092)(0.82,-0.09)(0.795,-0.08)(0.786,-0.06)(0.788,-0.035)}{(0.8,-0.045)(0.818,-0.05)(0.84,-0.072)(0.835,-0.085)(0.815,-0.08)(0.8,-0.065)}
\end{axis}
\begin{axis}[tri, xK, yP, lxK, at={(412.1pt,48.3pt)}]
\ctS{cB}{(0.002,0.005)(0.0048,0.005)(0.0033,-0.025)(0.0017,-0.0425)(-0.0004,-0.06)(-0.0024,-0.083)(-0.005,-0.094)(-0.0089,-0.0955)(-0.0095,-0.09)(-0.0058,-0.0738)(-0.0024,-0.0564)(0.0003,-0.039)(0.0014,-0.02)}{(0.0008,-0.038)(0.0005,-0.055)(-0.0015,-0.07)(-0.0045,-0.083)(-0.0062,-0.082)(-0.004,-0.066)(-0.0015,-0.05)}
\ctS{cG}{(0.0005,-0.03)(0.0022,-0.035)(0.0015,-0.05)(-0.0005,-0.065)(-0.0035,-0.085)(-0.007,-0.096)(-0.0098,-0.096)(-0.0095,-0.088)(-0.006,-0.072)(-0.003,-0.055)(-0.0008,-0.04)}{(-0.0005,-0.05)(-0.0015,-0.065)(-0.0045,-0.082)(-0.0065,-0.084)(-0.005,-0.07)(-0.0025,-0.056)}
\ctS{cO}{(0.0015,0.005)(0.0045,0.005)(0.003,-0.025)(0.0012,-0.045)(-0.001,-0.065)(-0.003,-0.08)(-0.0065,-0.088)(-0.0075,-0.084)(-0.0045,-0.068)(-0.0015,-0.05)(0.0003,-0.03)(0.001,-0.012)}{(0.0005,-0.042)(0.0003,-0.055)(-0.0015,-0.07)(-0.004,-0.079)(-0.005,-0.075)(-0.003,-0.062)(-0.001,-0.05)}
\ctS{cP}{(0.0,-0.018)(0.0028,-0.025)(0.002,-0.045)(0.0,-0.062)(-0.003,-0.082)(-0.0065,-0.093)(-0.0092,-0.093)(-0.0085,-0.085)(-0.0055,-0.068)(-0.0025,-0.05)(-0.0008,-0.03)}{(0.0,-0.045)(-0.0003,-0.058)(-0.0025,-0.073)(-0.005,-0.082)(-0.0058,-0.077)(-0.0035,-0.063)(-0.0012,-0.05)}
\end{axis}
\begin{axis}[tri, xF, yP, lxF, at={(527.7pt,48.3pt)}]
\ctS{cB}{(0.11972,0.005)(0.1189,-0.0181)(0.1179,-0.0425)(0.11744,-0.0599)(0.11753,-0.0738)(0.1179,-0.0843)(0.1189,-0.0912)(0.12056,-0.0929)(0.1225,-0.0895)(0.1232,-0.0808)(0.12335,-0.0668)(0.12281,-0.0494)(0.12168,-0.0285)(0.12081,-0.0111)(0.12056,0.005)}{(0.1202,-0.03)(0.1219,-0.05)(0.12211,-0.07)(0.1202,-0.083)(0.11829,-0.07)(0.1185,-0.05)}
\ctM{cG}{(0.12011,-0.037)(0.12196,-0.045)(0.12317,-0.068)(0.12259,-0.088)(0.1202,-0.0955)(0.11781,-0.09)(0.11729,-0.07)(0.11823,-0.047)}{(0.12205,-0.067)(0.1202,-0.052)(0.11835,-0.067)(0.1202,-0.084)}
\ctS{cO}{(0.1205,0.005)(0.11964,-0.02)(0.11856,-0.045)(0.11802,-0.065)(0.11828,-0.08)(0.11964,-0.089)(0.12176,-0.089)(0.12325,-0.08)(0.1237,-0.062)(0.12284,-0.04)(0.12176,-0.02)(0.12113,0.005)}{(0.1204,-0.035)(0.12211,-0.05)(0.1223,-0.068)(0.1204,-0.08)(0.1185,-0.068)(0.11869,-0.05)}
\ctM{cP}{(0.1202,-0.018)(0.12181,-0.03)(0.1229,-0.055)(0.12299,-0.075)(0.12205,-0.09)(0.1202,-0.094)(0.11811,-0.09)(0.11732,-0.072)(0.11765,-0.05)(0.11875,-0.03)}{(0.12205,-0.0625)(0.1202,-0.0425)(0.11835,-0.0625)(0.1202,-0.0825)}
\end{axis}
\begin{axis}[tri, xB, yP, lxB, at={(643.3pt,48.3pt)}]
\ctS{cB}{(0.022118,0.005)(0.022029,-0.0181)(0.021922,-0.0425)(0.021872,-0.0599)(0.021882,-0.0738)(0.021922,-0.0843)(0.022029,-0.0912)(0.022209,-0.0929)(0.022419,-0.0895)(0.022494,-0.0808)(0.02251,-0.0668)(0.022451,-0.0494)(0.02233,-0.0285)(0.022235,-0.0111)(0.022209,0.005)}{(0.02217,-0.03)(0.022353,-0.05)(0.022376,-0.07)(0.02217,-0.083)(0.021964,-0.07)(0.021987,-0.05)}
\ctM{cG}{(0.02216,-0.037)(0.02236,-0.045)(0.02249,-0.068)(0.022428,-0.088)(0.02217,-0.0955)(0.021912,-0.09)(0.021856,-0.07)(0.021957,-0.047)}{(0.022371,-0.067)(0.02217,-0.052)(0.021969,-0.067)(0.02217,-0.084)}
\ctS{cO}{(0.02218,0.005)(0.022092,-0.02)(0.02198,-0.045)(0.021925,-0.065)(0.021951,-0.08)(0.022092,-0.089)(0.022311,-0.089)(0.022464,-0.08)(0.02251,-0.062)(0.022422,-0.04)(0.022311,-0.02)(0.022245,0.005)}{(0.02217,-0.035)(0.022347,-0.05)(0.022366,-0.068)(0.02217,-0.08)(0.021974,-0.068)(0.021993,-0.05)}
\ctM{cP}{(0.02217,-0.018)(0.022343,-0.03)(0.022461,-0.055)(0.022471,-0.075)(0.022369,-0.09)(0.02217,-0.094)(0.021944,-0.09)(0.021859,-0.072)(0.021895,-0.05)(0.022013,-0.03)}{(0.022371,-0.0625)(0.02217,-0.0425)(0.021969,-0.0625)(0.02217,-0.0825)}
\end{axis}
\begin{axis}[tri, xC, yP, lxC, at={(758.9pt,48.3pt)}]
\ctS{cB}{(-0.1,-0.0075)(0.24,-0.0072)(0.52,-0.0075)(0.75,-0.0146)(1.09,-0.0285)(1.49,-0.0494)(1.69,-0.0738)(1.6,-0.0912)(1.375,-0.0947)(1.09,-0.0877)(0.81,-0.0773)(0.47,-0.0703)(0.24,-0.0686)(-0.1,-0.0686)}{(0.45,-0.04)(0.85,-0.045)(1.2,-0.055)(1.45,-0.075)(1.35,-0.088)(1.0,-0.08)(0.6,-0.07)(0.35,-0.055)}
\ctS{cG}{(0.67,-0.039)(0.98,-0.0285)(1.3,-0.045)(1.545,-0.0703)(1.545,-0.0912)(1.32,-0.0982)(1.12,-0.0877)(0.81,-0.0703)(0.64,-0.0529)}{(0.95,-0.055)(1.2,-0.058)(1.4,-0.075)(1.35,-0.088)(1.15,-0.082)(0.95,-0.07)}
\ctS{cO}{(0.41,0.005)(0.3,-0.025)(0.244,-0.0459)(0.36,-0.0738)(0.64,-0.0843)(1.036,-0.0877)(1.2,-0.0843)(1.2,-0.0599)(1.09,-0.039)(0.866,-0.0216)(0.81,0.005)}{(0.6,-0.045)(0.95,-0.055)(1.1,-0.07)(1.0,-0.08)(0.7,-0.075)(0.5,-0.06)}
\ctS{cP}{(0.81,-0.0181)(1.13,-0.0216)(1.32,-0.0459)(1.32,-0.0738)(1.234,-0.0877)(1.036,-0.0843)(0.75,-0.0668)(0.64,-0.039)(0.7,-0.0216)}{(1.0,-0.048)(1.15,-0.05)(1.22,-0.068)(1.15,-0.08)(1.02,-0.075)(0.95,-0.06)}
\end{axis}
\begin{axis}[dg, xP, lxP, at={(874.5pt,48.3pt)}]
\dcurve{cB}{(-0.1236,0)(-0.1,0.01)(-0.0859,0.165)(-0.0752,0.57)(-0.0681,0.91)(-0.0637,1)(-0.0574,0.88)(-0.0504,0.57)(-0.0415,0.29)(-0.0308,0.134)(-0.0148,0.072)(-0.0006,0.047)}
\dcurve{cG}{(-0.1236,0)(-0.1071,0.01)(-0.093,0.134)(-0.084,0.57)(-0.077,0.91)(-0.0717,1)(-0.0663,0.88)(-0.061,0.57)(-0.0539,0.26)(-0.0468,0.10)(-0.0361,0.025)(-0.02,0.003)(-0.0006,0)}
\dcurve{cO}{(-0.1236,0)(-0.0965,0.01)(-0.0823,0.165)(-0.0717,0.57)(-0.0646,0.9)(-0.0592,1)(-0.0521,0.88)(-0.0451,0.57)(-0.0361,0.29)(-0.0255,0.165)(-0.0113,0.087)(-0.0006,0.065)}
\dcurve{cP}{(-0.1236,0)(-0.1018,0.01)(-0.0876,0.165)(-0.0787,0.57)(-0.0717,0.91)(-0.0663,1)(-0.061,0.91)(-0.0539,0.57)(-0.0468,0.29)(-0.0361,0.118)(-0.022,0.056)(-0.0006,0.025)}
\end{axis}
\end{tikzpicture}
\end{document}
